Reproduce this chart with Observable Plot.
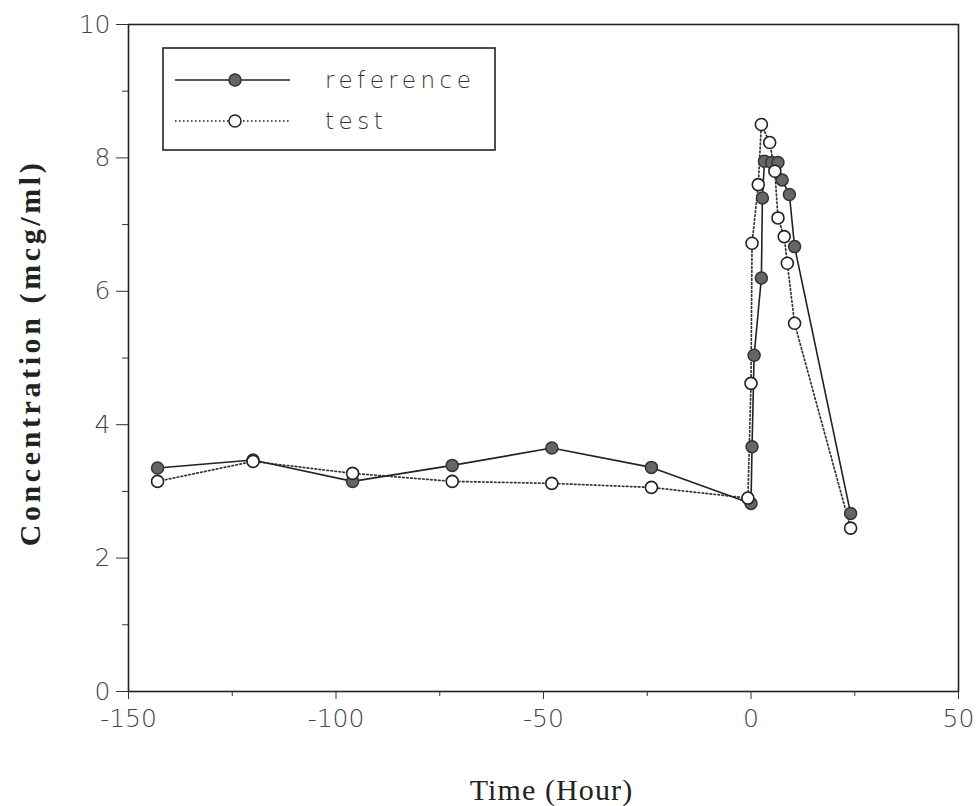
<!DOCTYPE html>
<html>
<head>
<meta charset="utf-8">
<script src="https://cdn.jsdelivr.net/npm/d3@7"></script>
<script src="https://cdn.jsdelivr.net/npm/@observablehq/plot@0.6"></script>
<style>
  html, body { margin: 0; padding: 0; background: #fff; }
  #chart { position: relative; width: 977px; height: 806px; }
</style>
</head>
<body>
<div id="chart"></div>
<script>
// Time (hours) and concentration (mcg/ml)
const refTime = [-143, -120, -96, -72, -48, -24, 0, 0.25, 0.75, 2.5, 2.75, 3.25, 5, 6.5, 7.5, 9.25, 10.5, 24];
const refConc = [3.35, 3.47, 3.15, 3.39, 3.65, 3.36, 2.82, 3.67, 5.04, 6.2, 7.4, 7.95, 7.93, 7.93, 7.67, 7.45, 6.67, 2.67];
const testTime = [-143, -120, -96, -72, -48, -24, -0.75, 0, 0.25, 1.75, 2.5, 4.5, 5.75, 6.5, 8, 8.75, 10.5, 24];
const testConc = [3.15, 3.45, 3.27, 3.15, 3.12, 3.06, 2.9, 4.62, 6.72, 7.6, 8.5, 8.23, 7.8, 7.1, 6.82, 6.42, 5.52, 2.45];

const xMajor = [-150, -100, -50, 0, 50];
const xMinor = [-125, -75, -25, 25];
const yMajor = [0, 2, 4, 6, 8, 10];
const yMinor = [1, 3, 5, 7, 9];

const seriesNames = ["reference", "test"];
const xTitle = "Time (Hour)";
const yTitle = "Concentration (mcg/ml)";

const ref = refTime.map((t, i) => ({t, c: refConc[i]}));
const test = testTime.map((t, i) => ({t, c: testConc[i]}));

const tickFont = "DejaVu Sans";
const plot = Plot.plot({
  width: 977,
  height: 806,
  marginLeft: 128,
  marginRight: 19,
  marginTop: 24,
  marginBottom: 115,
  style: {fontFamily: tickFont, fontSize: "24px", color: "#333", background: "#fff"},
  x: {domain: [-150, 50]},
  y: {domain: [0, 10]},
  marks: [
    Plot.frame({stroke: "#222", strokeWidth: 1.6}),
    Plot.axisX({ticks: xMajor, tickSize: 8, tickPadding: 10, fontSize: 25, fontWeight: 200, fill: "#444", label: null, tickFormat: d => d < 0 ? "-" + Math.abs(d) : String(d)}),
    Plot.axisX({ticks: xMinor, tickSize: 5, tickFormat: () => "", label: null}),
    Plot.axisY({ticks: yMajor, tickSize: 12, tickPadding: 6, fontSize: 25, fontWeight: 200, fill: "#444", label: null}),
    Plot.axisY({ticks: yMinor, tickSize: 6, tickFormat: () => "", label: null}),
    Plot.line(test, {x: "t", y: "c", stroke: "#333", strokeWidth: 1.7, strokeDasharray: "1.6,2.4"}),
    Plot.line(ref, {x: "t", y: "c", stroke: "#222", strokeWidth: 1.6}),
    Plot.dot(ref, {x: "t", y: "c", r: 6, fill: "#666", stroke: "#333", strokeWidth: 1.5}),
    Plot.dot(test, {x: "t", y: "c", r: 6, fill: "#fff", stroke: "#222", strokeWidth: 1.6}),
    Plot.text([yTitle], {frameAnchor: "left", text: d => d, rotate: -90, dx: -98, dy: -5, textAnchor: "middle", fontFamily: "Liberation Serif", fontWeight: "bold", fontSize: 30, fill: "#222"}),
    Plot.text([xTitle], {frameAnchor: "bottom", text: d => d, dx: 8, dy: 108, fontFamily: "Liberation Serif", fontSize: 30, fill: "#222"})
  ]
});
document.getElementById("chart").appendChild(plot);

const svg = d3.select(plot);
// letter spacing of the axis titles
svg.selectAll("text").filter(function() { return this.textContent === yTitle; }).attr("letter-spacing", 3.6);
svg.selectAll("text").filter(function() { return this.textContent === xTitle; }).attr("letter-spacing", 1.1);

// Legend box drawn inside the plot area
const lg = svg.append("g").attr("class", "legend");
lg.append("rect").attr("x", 163).attr("y", 48).attr("width", 332).attr("height", 102)
  .attr("fill", "#fff").attr("stroke", "#222").attr("stroke-width", 1.6);
const rows = [
  {name: seriesNames[0], y: 80, dash: null, fill: "#666", stroke: "#333"},
  {name: seriesNames[1], y: 121, dash: "1.6,2.4", fill: "#fff", stroke: "#222"}
];
rows.forEach(r => {
  lg.append("line").attr("x1", 175).attr("x2", 290).attr("y1", r.y).attr("y2", r.y)
    .attr("stroke", "#222").attr("stroke-width", 1.6).attr("stroke-dasharray", r.dash);
  lg.append("circle").attr("cx", 235).attr("cy", r.y).attr("r", 6)
    .attr("fill", r.fill).attr("stroke", r.stroke).attr("stroke-width", 1.5);
  lg.append("text").attr("x", 325).attr("y", r.y + 8).text(r.name)
    .attr("text-anchor", "start")
    .attr("font-family", tickFont).attr("font-size", 23).attr("font-weight", 300)
    .attr("letter-spacing", 4.5).attr("fill", "#333");
});
</script>
</body>
</html>
